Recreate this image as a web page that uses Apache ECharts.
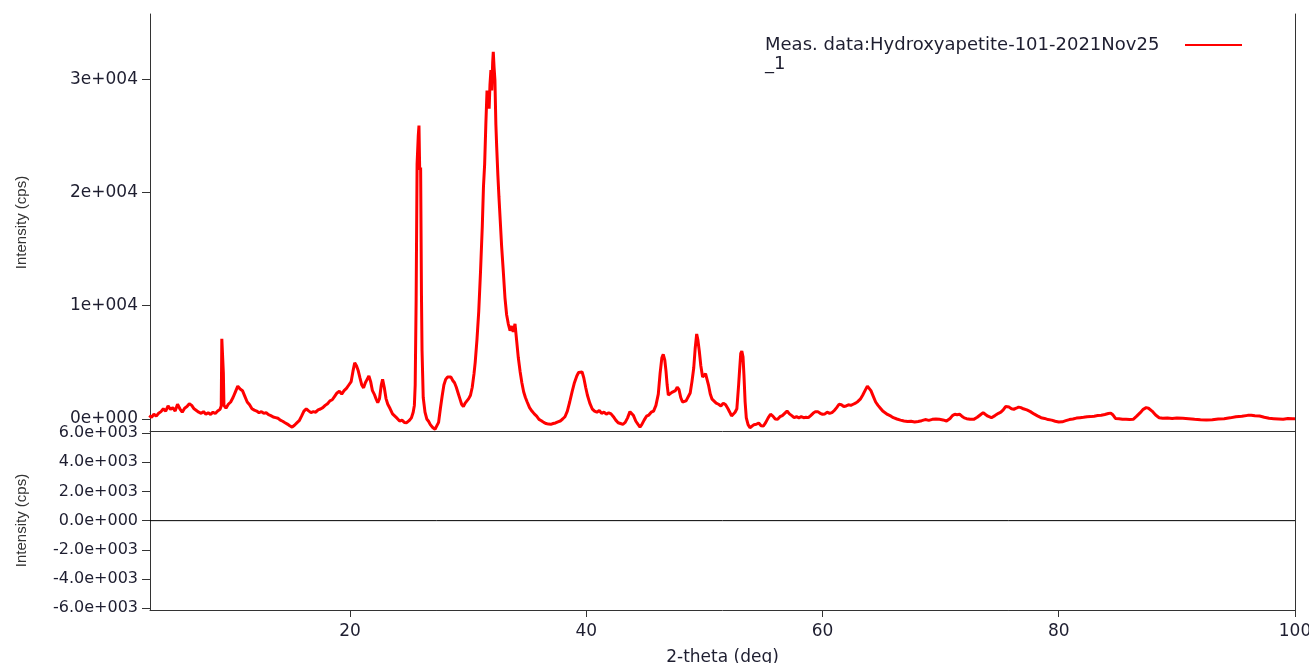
<!DOCTYPE html>
<html><head><meta charset="utf-8">
<script src="https://cdn.jsdelivr.net/npm/echarts@6/dist/echarts.min.js"></script>
<style>html,body{margin:0;padding:0;background:#fff}#c{width:1309px;height:663px}</style>
</head><body><div id="c"></div>
<script>
const seriesName = 'Meas. data:Hydroxyapetite-101-2021Nov25_1';
const legendLines = ['Meas. data:Hydroxyapetite-101-2021Nov25', '_1'];
// measured pattern: [2-theta (deg), intensity (cps)]
const measured = [
[3.0,300],[3.2,150],[3.4,420],[3.6,250],[3.8,500],[4.0,650],[4.2,900],[4.4,700],[4.6,1150],[4.8,850],
[5.0,1000],[5.2,700],[5.4,1300],[5.6,900],[5.8,600],[6.0,950],[6.2,1100],[6.4,1350],[6.6,1200],[6.8,900],
[7.0,750],[7.2,600],[7.4,500],[7.6,650],[7.8,420],[8.0,550],[8.2,400],[8.4,600],[8.6,480],[8.8,700],
[9.0,850],[9.1,1150],[9.15,7080],[9.22,7000],[9.28,4070],[9.33,1200],[9.5,950],[9.7,1300],[9.9,1500],
[10.1,1900],[10.3,2400],[10.5,2900],[10.7,2650],[10.9,2500],[11.1,2000],[11.3,1500],[11.5,1250],[11.7,900],[11.9,780],
[12.1,700],[12.3,550],[12.5,650],[12.7,500],[12.9,560],[13.1,380],[13.3,300],[13.5,180],[13.7,120],[13.9,60],
[14.1,-100],[14.3,-200],[14.5,-330],[14.7,-450],[14.9,-600],[15.1,-720],[15.3,-550],[15.5,-350],[15.7,-150],[15.9,250],
[16.1,700],[16.3,900],[16.5,720],[16.7,560],[16.9,650],[17.1,600],[17.3,800],[17.5,880],[17.7,1000],[17.9,1200],
[18.1,1350],[18.3,1600],[18.5,1700],[18.7,2000],[18.9,2300],[19.1,2450],[19.3,2200],[19.5,2500],[19.7,2700],[19.9,3000],
[20.1,3300],[20.25,4200],[20.4,4950],[20.55,4700],[20.7,4250],[20.85,3600],[21.0,3000],[21.15,2750],[21.3,3200],[21.45,3500],
[21.6,3800],[21.75,3300],[21.9,2500],[22.05,2200],[22.2,1800],[22.35,1450],[22.5,1800],[22.65,3000],[22.76,3500],[22.9,2800],
[23.05,1800],[23.2,1300],[23.4,900],[23.6,450],[23.8,250],[24.0,50],[24.2,-180],[24.4,-100],[24.6,-300],[24.8,-330],
[25.0,-150],[25.2,100],[25.35,600],[25.45,1200],[25.52,3000],[25.6,10500],[25.68,22500],[25.78,25000],[25.84,25900],[25.9,22000],
[25.98,22200],[26.05,11000],[26.1,6000],[26.2,1900],[26.35,600],[26.5,0],[26.65,-200],[26.8,-500],[27.0,-750],[27.2,-900],
[27.35,-950],[27.5,-300],[27.65,900],[27.8,2000],[27.95,3000],[28.1,3500],[28.25,3700],[28.4,3550],[28.55,3700],[28.7,3400],
[28.85,3200],[29.0,2800],[29.15,2300],[29.3,1800],[29.45,1300],[29.6,1100],[29.75,1400],[29.9,1500],[30.05,1800],[30.2,2100],
[30.35,2800],[30.5,4000],[30.6,5000],[30.75,7000],[30.9,9500],[31.05,13000],[31.2,17000],[31.3,20500],[31.4,22500],[31.5,26000],
[31.6,29000],[31.7,28500],[31.78,27400],[31.85,29500],[31.93,30800],[32.0,29000],[32.08,31500],[32.13,32400],[32.2,31000],[32.27,29900],
[32.35,26000],[32.42,24000],[32.52,21500],[32.61,19600],[32.72,17500],[32.84,15200],[32.98,13000],[33.12,10700],[33.26,9200],[33.4,8400],
[33.55,7800],[33.7,8200],[33.82,7700],[33.97,8400],[34.1,7000],[34.25,5400],[34.4,4200],[34.55,3200],[34.7,2400],[34.85,1900],
[35.0,1500],[35.2,1000],[35.4,700],[35.6,450],[35.8,250],[36.0,-30],[36.2,-150],[36.4,-300],[36.6,-400],[36.8,-450],
[37.0,-470],[37.2,-400],[37.4,-350],[37.6,-250],[37.8,-180],[38.0,0],[38.2,200],[38.4,700],[38.6,1500],[38.8,2400],
[39.0,3200],[39.2,3800],[39.35,4100],[39.5,4250],[39.65,4150],[39.8,3600],[39.95,2800],[40.1,2100],[40.3,1400],[40.5,900],
[40.7,700],[40.9,600],[41.1,750],[41.3,500],[41.5,600],[41.7,420],[41.9,550],[42.1,450],[42.3,200],[42.5,-100],
[42.7,-330],[42.9,-400],[43.1,-470],[43.3,-300],[43.5,100],[43.7,650],[43.85,700],[44.0,300],[44.2,-200],[44.4,-500],
[44.55,-710],[44.7,-500],[44.9,-100],[45.1,250],[45.3,350],[45.5,600],[45.7,700],[45.9,1200],[46.1,2200],[46.25,4000],
[46.4,5400],[46.52,5700],[46.65,5200],[46.75,4250],[46.85,3000],[46.95,2100],[47.1,2000],[47.25,2350],[47.4,2300],[47.55,2500],
[47.7,2800],[47.85,2600],[48.0,1900],[48.15,1500],[48.3,1400],[48.45,1600],[48.6,1750],[48.8,2300],[48.95,3300],[49.1,4500],
[49.22,6200],[49.35,7500],[49.45,7000],[49.57,6000],[49.7,4700],[49.85,3700],[50.0,3600],[50.1,4000],[50.2,3950],[50.35,3000],
[50.5,2200],[50.65,1750],[50.8,1600],[51.0,1400],[51.2,1300],[51.4,1150],[51.6,1400],[51.8,1250],[52.0,900],[52.15,600],
[52.3,265],[52.45,400],[52.6,600],[52.75,900],[52.9,3000],[52.98,4300],[53.08,5800],[53.17,6000],[53.27,5500],[53.35,3900],
[53.45,1500],[53.55,100],[53.7,-500],[53.86,-770],[54.0,-600],[54.2,-500],[54.4,-470],[54.6,-350],[54.8,-600],[55.0,-620],
[55.2,-300],[55.4,100],[55.6,420],[55.8,250],[56.0,0],[56.2,-30],[56.4,200],[56.6,300],[56.8,500],[57.0,700],
[57.2,450],[57.4,300],[57.6,120],[57.8,200],[58.0,100],[58.2,200],[58.4,115],[58.6,150],[58.8,120],[59.0,300],
[59.2,500],[59.4,650],[59.6,650],[59.8,500],[60.0,420],[60.2,450],[60.4,600],[60.6,500],[60.8,560],[61.0,750],
[61.2,1000],[61.4,1300],[61.6,1250],[61.8,1100],[62.0,1150],[62.2,1250],[62.4,1200],[62.6,1300],[62.8,1400],[63.0,1550],
[63.2,1750],[63.4,2100],[63.6,2500],[63.8,2900],[63.95,2950],[64.1,2500],[64.3,2000],[64.5,1500],[64.7,1200],[64.9,950],
[65.1,700],[65.3,550],[65.5,400],[65.8,250],[66.0,115],[66.3,0],[66.6,-100],[66.9,-180],[67.2,-230],[67.5,-200],
[67.8,-270],[68.1,-220],[68.4,-150],[68.7,-50],[69.0,-120],[69.3,-30],[69.6,0],[69.9,-30],[70.2,-80],[70.5,-180],
[70.8,50],[71.0,300],[71.2,420],[71.4,380],[71.6,420],[71.8,250],[72.0,100],[72.2,30],[72.5,-30],[72.8,-30],
[73.1,150],[73.4,400],[73.6,560],[73.8,400],[74.0,250],[74.3,115],[74.6,300],[74.9,500],[75.1,600],[75.3,800],
[75.5,1100],[75.65,1200],[75.8,1050],[76.0,900],[76.2,860],[76.4,950],[76.6,1050],[76.8,1000],[77.0,900],[77.3,800],
[77.6,650],[77.9,450],[78.2,280],[78.5,115],[78.8,50],[79.1,-50],[79.4,-100],[79.7,-200],[80.0,-270],[80.3,-250],
[80.6,-150],[80.9,-50],[81.2,0],[81.5,80],[81.8,115],[82.1,150],[82.4,200],[82.7,210],[83.0,250],[83.3,300],
[83.6,330],[83.9,400],[84.2,480],[84.4,520],[84.6,350],[84.8,50],[85.1,20],[85.4,-30],[85.7,-30],[86.0,-50],
[86.3,-30],[86.6,250],[86.9,560],[87.15,850],[87.4,1000],[87.6,950],[87.9,700],[88.2,350],[88.5,115],[88.8,60],
[89.2,80],[89.6,40],[90.0,80],[90.5,60],[91.0,30],[91.5,-20],[92.0,-60],[92.5,-90],[93.0,-60],[93.5,0],
[94.0,30],[94.5,100],[95.0,200],[95.5,250],[96.0,320],[96.3,330],[96.6,280],[97.0,260],[97.4,150],[97.8,60],
[98.2,30],[98.6,0],[99.0,-30],[99.4,40],[99.8,20],[100.0,30]
];
// difference pattern (lower panel)
const diffTheta = [3.07, 100];
const diffValues = [0, 0];
// axes
const xTickValues = [20, 40, 60, 80, 100];
const xTickLabels = ['20', '40', '60', '80', '100'];
const upperTickValues = [0, 10000, 20000, 30000];
const upperTickLabels = ['0e+000', '1e+004', '2e+004', '3e+004'];
const lowerTickValues = [-6000, -4000, -2000, 0, 2000, 4000, 6000];
const lowerTickLabels = ['-6.0e+003', '-4.0e+003', '-2.0e+003', '0.0e+000', '2.0e+003', '4.0e+003', '6.0e+003'];

const AX = '#333333';
const LBL = '#1e1e30';
const FONT = 'DejaVu Sans';
function labelFor(values, labels) {
  return v => { const i = values.findIndex(t => Math.abs(t - v) < 1e-6); return i >= 0 ? labels[i] : ''; };
}
const chart = echarts.init(document.getElementById('c'), null, {renderer: 'canvas'});
const xMin = 3.07, xMax = 100;
chart.setOption({
  animation: false,
  backgroundColor: '#ffffff',
  grid: [
    {left: 150, right: 14, top: 14, height: 417, containLabel: false, outerBoundsMode: 'none'},
    {left: 150, right: 14, top: 431, height: 179, containLabel: false, outerBoundsMode: 'none'}
  ],
  legend: {
    right: 62, top: 31, align: 'right', icon: 'rect', itemWidth: 57, itemHeight: 2,
    data: [seriesName],
    formatter: () => '{a|' + legendLines[0] + '}\n{a|' + legendLines[1] + '}',
    textStyle: {padding: [19, 0, 0, 0], rich: {a: {fontFamily: FONT, fontSize: 18, color: LBL, lineHeight: 19, width: 415, align: 'left'}}}
  },
  xAxis: [
    {gridIndex: 0, type: 'value', min: xMin, max: xMax,
     axisLine: {show: true, onZero: false, lineStyle: {color: AX, width: 1}},
     axisTick: {show: false}, axisLabel: {show: false}, splitLine: {show: false}},
    {gridIndex: 1, type: 'value', min: xMin, max: xMax,
     name: '2-theta (deg)', nameLocation: 'middle', nameGap: 39,
     nameTextStyle: {fontFamily: FONT, fontSize: 17, color: LBL},
     axisLine: {show: true, onZero: false, lineStyle: {color: AX, width: 1}},
     axisTick: {show: true, length: 7, customValues: xTickValues, lineStyle: {color: AX}},
     axisLabel: {show: true, customValues: xTickValues, margin: 13, fontFamily: FONT, fontSize: 17, color: LBL,
                 formatter: labelFor(xTickValues, xTickLabels)},
     splitLine: {show: false}}
  ],
  yAxis: [
    {gridIndex: 0, type: 'value', min: -1060, max: 35750, position: 'left',
     name: 'Intensity (cps)', nameLocation: 'middle', nameRotate: 90, nameGap: 121,
     nameTextStyle: {fontFamily: 'Liberation Sans', fontSize: 15, color: '#333'},
     axisLine: {show: true, onZero: false, lineStyle: {color: AX}},
     axisTick: {show: true, length: 8, customValues: upperTickValues, lineStyle: {color: AX}},
     axisLabel: {show: true, customValues: upperTickValues, margin: 12, fontFamily: FONT, fontSize: 17, color: LBL,
                 formatter: labelFor(upperTickValues, upperTickLabels)},
     splitLine: {show: false}},
    {gridIndex: 0, type: 'value', min: -1060, max: 35750, position: 'right',
     axisLine: {show: true, onZero: false, lineStyle: {color: AX}},
     axisTick: {show: false}, axisLabel: {show: false}, splitLine: {show: false}},
    {gridIndex: 1, type: 'value', min: -6130, max: 6150, position: 'left',
     name: 'Intensity (cps)', nameLocation: 'middle', nameRotate: 90, nameGap: 121,
     nameTextStyle: {fontFamily: 'Liberation Sans', fontSize: 15, color: '#333'},
     axisLine: {show: true, onZero: false, lineStyle: {color: AX}},
     axisTick: {show: true, length: 8, customValues: lowerTickValues, lineStyle: {color: AX}},
     axisLabel: {show: true, customValues: lowerTickValues, margin: 12, fontFamily: FONT, fontSize: 16, color: LBL,
                 formatter: labelFor(lowerTickValues, lowerTickLabels)},
     splitLine: {show: false}},
    {gridIndex: 1, type: 'value', min: -6130, max: 6150, position: 'right',
     axisLine: {show: true, onZero: false, lineStyle: {color: AX}},
     axisTick: {show: false}, axisLabel: {show: false}, splitLine: {show: false}}
  ],
  series: [
    {name: seriesName, type: 'line', xAxisIndex: 0, yAxisIndex: 0, data: measured,
     showSymbol: false, symbol: 'none', clip: true,
     lineStyle: {color: '#ff0000', width: 3}, itemStyle: {color: '#ff0000'}},
    {name: 'Difference', type: 'line', xAxisIndex: 1, yAxisIndex: 2,
     data: diffTheta.map((t, i) => [t, diffValues[i]]),
     showSymbol: false, symbol: 'none', lineStyle: {color: '#000000', width: 1}}
  ]
});
</script></body></html>
